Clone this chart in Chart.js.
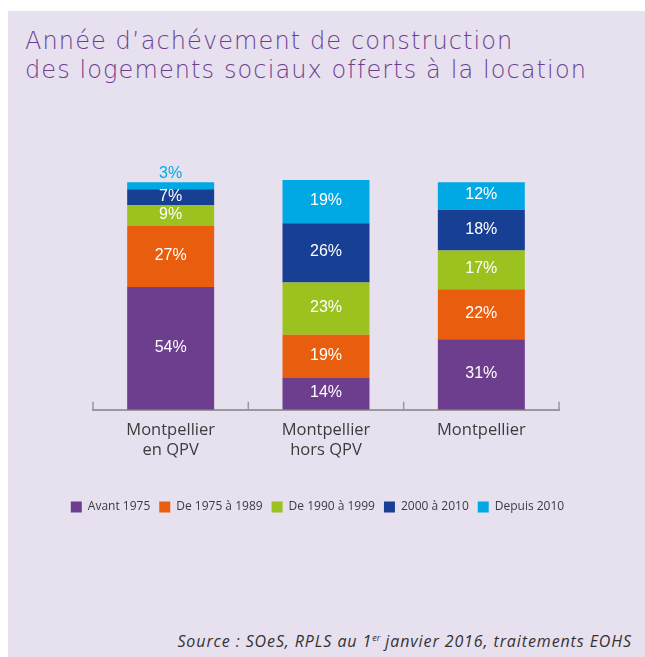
<!DOCTYPE html>
<html>
<head>
<meta charset="utf-8">
<script src="https://cdn.jsdelivr.net/npm/chart.js@4.4.1/dist/chart.umd.min.js"></script>
<style>
  body { margin: 0; background: #ffffff; }
  #panel {
    position: absolute; left: 8px; top: 11px; width: 637px; height: 646px;
    background: #e7e0ef;
  }
  #title {
    position: absolute; left: 17px; top: 16px;
    font-family: "DejaVu Sans", sans-serif; font-weight: 200;
    font-size: 24px; line-height: 29px; color: #6c3e8f; letter-spacing: 1.1px;
  }
  #source {
    position: absolute; right: 13px; top: 620px;
    font-family: "Open Sans", sans-serif; font-style: italic;
    font-size: 16px; line-height: 20px; color: #333333; letter-spacing: 0.9px;
  }
  #source sup { font-size: 9px; vertical-align: 6px; line-height: 0; letter-spacing: 0; }
  canvas { position: absolute; left: 0; top: 0; }
</style>
</head>
<body>
<div id="panel">
  <div id="title">Année d’achévement de construction<br>des logements sociaux offerts à la location</div>
  <canvas id="chart" width="637" height="530"></canvas>
  <div id="source">Source : SOeS, RPLS au 1<sup>er</sup> janvier 2016, traitements EOHS</div>
</div>
<script>
// categories (x axis), one array per construction period (in %)
let categories = [['Montpellier', 'en QPV'], ['Montpellier', 'hors QPV'], ['Montpellier']];
let avant1975 = [54, 14, 31];
let de1975a1989 = [27, 19, 22];
let de1990a1999 = [9, 23, 17];
let de2000a2010 = [7, 26, 18];
let depuis2010 = [3, 19, 12];

let seriesNames = ['Avant 1975', 'De 1975 à 1989', 'De 1990 à 1999', '2000 à 2010', 'Depuis 2010'];
let seriesColors = ['#6d3d8e', '#e95d0f', '#9bc21f', '#173f94', '#00a9e4'];
let seriesData = [avant1975, de1975a1989, de1990a1999, de2000a2010, depuis2010];

// Writes the % value in each segment, or above the bar when the segment is too thin.
let valueLabels = {
    id: 'valueLabels',
    afterDatasetsDraw(chart) {
        let ctx = chart.ctx;
        ctx.save();
        ctx.font = '16px "Liberation Sans Narrow", sans-serif';
        ctx.textAlign = 'center';
        ctx.textBaseline = 'middle';
        chart.data.datasets.forEach((ds, i) => {
            chart.getDatasetMeta(i).data.forEach((bar, j) => {
                let h = bar.base - bar.y;
                let text = ds.data[j] + '%';
                if (h >= 14) {
                    ctx.fillStyle = '#ffffff';
                    ctx.fillText(text, bar.x, (bar.y + bar.base) / 2 - 1);
                } else {
                    ctx.fillStyle = ds.backgroundColor;
                    ctx.fillText(text, bar.x, bar.y - 9);
                }
            });
        });
        ctx.restore();
    }
};

// Small tick marks going up from the x axis at the category boundaries.
let upTicks = {
    id: 'upTicks',
    afterDraw(chart) {
        let ctx = chart.ctx;
        let x = chart.scales.x;
        let bottom = chart.chartArea.bottom;
        let marks = [chart.chartArea.left];
        for (let i = 0; i < categories.length - 1; i++) {
            marks.push((x.getPixelForValue(i) + x.getPixelForValue(i + 1)) / 2);
        }
        marks.push(chart.chartArea.right);
        ctx.save();
        ctx.strokeStyle = '#9a9a9a';
        ctx.lineWidth = 1.5;
        marks.forEach(m => {
            ctx.beginPath();
            ctx.moveTo(m, bottom + 1);
            ctx.lineTo(m, bottom - 8);
            ctx.stroke();
        });
        ctx.restore();
    }
};

let chart = new Chart(document.getElementById('chart').getContext('2d'), {
    type: 'bar',
    data: {
        labels: categories,
        datasets: seriesData.map((d, i) => ({
            label: seriesNames[i],
            data: d,
            backgroundColor: seriesColors[i],
            borderWidth: 0,
            categoryPercentage: 0.8,
            barPercentage: 0.7
        }))
    },
    options: {
        responsive: false,
        animation: false,
        // the legend needs more room than the plot, so the side space is split
        // between the layout padding and two blank y axes
        layout: { padding: { left: 40, right: 58, top: 148.6, bottom: 18 } },
        scales: {
            x: {
                stacked: true,
                offset: true,
                grid: { display: false },
                border: { display: true, color: '#9a9a9a', width: 2 },
                ticks: {
                    color: '#3c3c3c',
                    padding: 2,
                    font: { family: '"Open Sans", sans-serif', size: 16.5, lineHeight: 1.25 }
                },
                afterFit(scale) { scale.height += 29; }
            },
            y: {
                stacked: true,
                min: 0,
                max: 110,
                grid: { display: false },
                border: { display: false },
                ticks: { display: false },
                afterFit(scale) { scale.width = 45; }
            },
            yRight: {
                position: 'right',
                grid: { display: false },
                border: { display: false },
                ticks: { display: false },
                afterFit(scale) { scale.width = 28; }
            }
        },
        plugins: {
            legend: {
                position: 'bottom',
                labels: {
                    boxWidth: 11,
                    boxHeight: 11,
                    padding: 9,
                    color: '#3c3c3c',
                    font: { family: '"Open Sans", sans-serif', size: 12 }
                }
            },
            tooltip: { enabled: false }
        }
    },
    plugins: [valueLabels, upTicks]
});
</script>
</body>
</html>
